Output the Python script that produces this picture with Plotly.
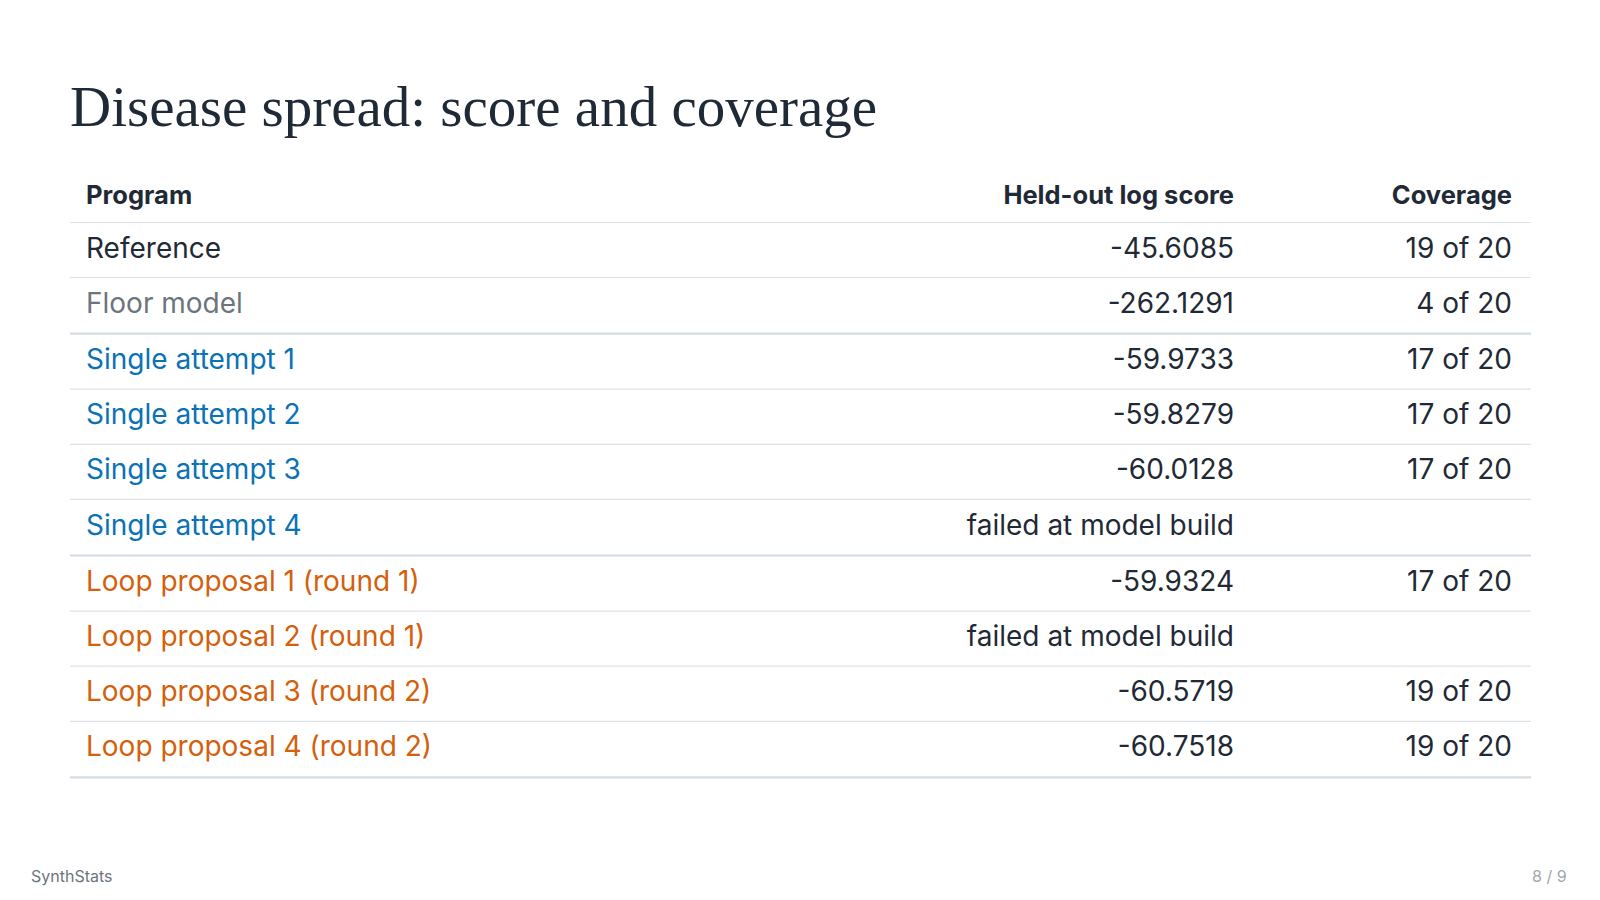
import plotly.graph_objects as go

title = "Disease spread: score and coverage"
headers = ["Program", "Held-out log score", "Coverage"]
programs = ["Reference", "Floor model", "Single attempt 1", "Single attempt 2", "Single attempt 3",
            "Single attempt 4", "Loop proposal 1 (round 1)", "Loop proposal 2 (round 1)",
            "Loop proposal 3 (round 2)", "Loop proposal 4 (round 2)"]
scores = ["-45.6085", "-262.1291", "-59.9733", "-59.8279", "-60.0128", "failed at model build",
          "-59.9324", "failed at model build", "-60.5719", "-60.7518"]
coverage = ["19 of 20", "4 of 20", "17 of 20", "17 of 20", "17 of 20", "",
            "17 of 20", "", "19 of 20", "19 of 20"]
groups = [0, 0, 1, 1, 1, 1, 2, 2, 2, 2]
name_colors = ["#1f2a36", "#6c757d"] + ["#0b72b5"] * 4 + ["#d4600c"] * 4

X0, X1 = 62, 1523
XL, XS, XC = 78, 1226, 1504
HY, Y0, DY, GAP = 189.5, 242.5, 55.1, 1.5

ys = [Y0 + i * DY + g * GAP for i, g in enumerate(groups)]

fig = go.Figure()
font = "Inter, Noto Sans, sans-serif"
fig.add_trace(go.Scatter(x=[XL], y=[HY], mode="text", text=[f"<b>{headers[0]}</b>"], textposition="middle right",
                         textfont=dict(family=font, size=25.5, color="#1f2a36"), hoverinfo="skip"))
fig.add_trace(go.Scatter(x=[XS, XC], y=[HY, HY], mode="text", text=[f"<b>{h}</b>" for h in headers[1:]],
                         textposition="middle left", textfont=dict(family=font, size=25.5, color="#1f2a36"),
                         hoverinfo="skip"))
fig.add_trace(go.Scatter(x=[XL] * len(programs), y=ys, mode="text", text=programs, textposition="middle right",
                         textfont=dict(family=font, size=28, color=name_colors), hoverinfo="skip"))
fig.add_trace(go.Scatter(x=[XS] * len(scores), y=ys, mode="text", text=scores, textposition="middle left",
                         textfont=dict(family=font, size=28, color="#1f2a36"), hoverinfo="skip"))
fig.add_trace(go.Scatter(x=[XC] * len(coverage), y=ys, mode="text", text=coverage, textposition="middle left",
                         textfont=dict(family=font, size=28, color="#1f2a36"), hoverinfo="skip"))

shapes = [dict(type="line", x0=X0, x1=X1, y0=HY + 25, y1=HY + 25, line=dict(color="#dde2e7", width=1.2))]
for i, y in enumerate(ys):
    last = i == len(ys) - 1
    thick = last or groups[i + 1] != groups[i]
    yy = y + 27 + (1 if thick else 0)
    shapes.append(dict(type="line", x0=X0, x1=X1, y0=yy, y1=yy,
                       line=dict(color="#d3dbe3" if thick else "#dde2e7", width=2.2 if thick else 1.2)))

fig.update_layout(
    width=1600, height=900, margin=dict(l=0, r=0, t=0, b=0),
    paper_bgcolor="white", plot_bgcolor="white", showlegend=False, shapes=shapes,
    xaxis=dict(range=[0, 1600], visible=False, fixedrange=True),
    yaxis=dict(range=[900, 0], visible=False, fixedrange=True),
    annotations=[
        dict(x=60, y=98, xref="x", yref="y", text=title, showarrow=False, xanchor="left", yanchor="middle",
             font=dict(family="Liberation Serif, DejaVu Serif, serif", size=57, color="#1f2a36")),
        dict(x=21, y=868, xref="x", yref="y", text="SynthStats", showarrow=False, xanchor="left",
             font=dict(family=font, size=16, color="#6c757d")),
        dict(x=1561, y=868, xref="x", yref="y", text="8 / 9", showarrow=False, xanchor="right",
             font=dict(family=font, size=16, color="#a0a7ae")),
    ],
)
fig.write_html("out.html")
